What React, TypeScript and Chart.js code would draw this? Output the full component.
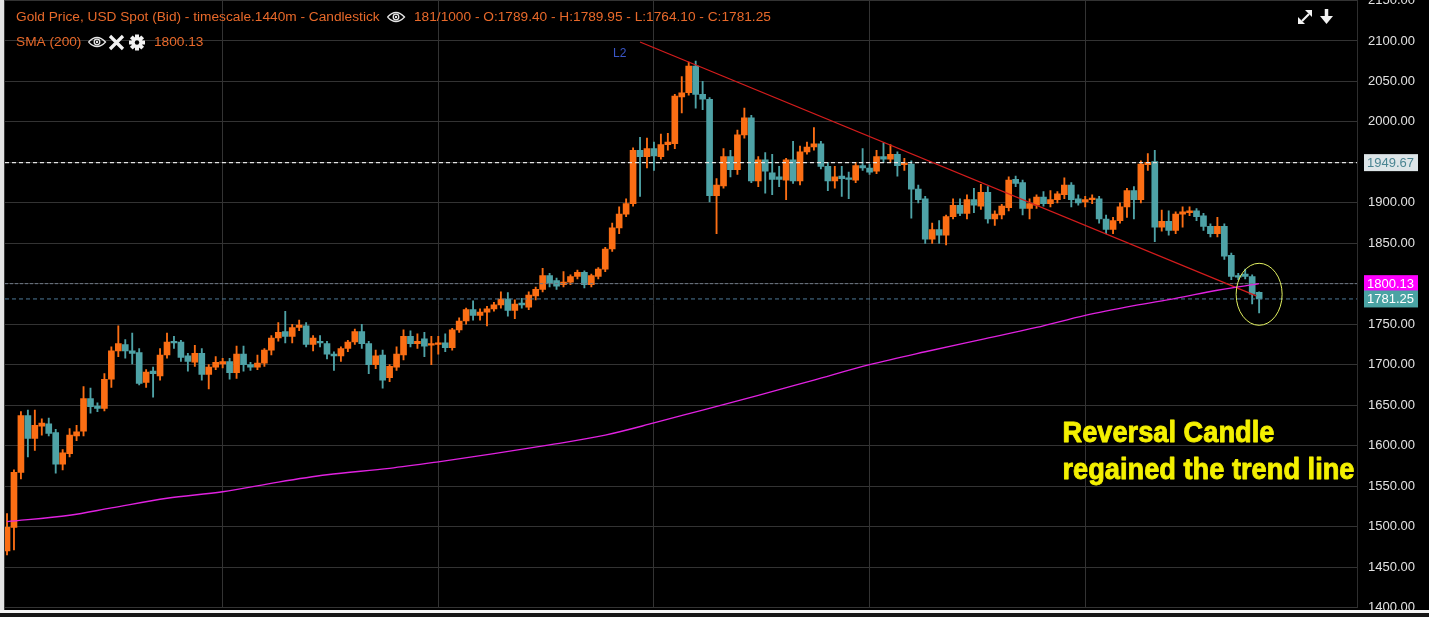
import { useEffect, useRef } from "react";
import { Chart, registerables } from "chart.js";
Chart.register(...registerables);

// ---- data (daily candles, 181 bars) ----
const opens = [
  1470, 1499, 1567, 1637, 1609, 1624, 1627, 1616, 1577, 1590,
  1612, 1618, 1658, 1649, 1646, 1682, 1717, 1725, 1717, 1715,
  1678, 1692, 1686, 1712, 1729, 1728, 1711, 1703, 1714, 1688,
  1697, 1701, 1704, 1690, 1713, 1700, 1697, 1702, 1718, 1733,
  1741, 1735, 1746, 1748, 1725, 1729, 1726, 1713, 1711, 1720,
  1728, 1741, 1726, 1700, 1712, 1684, 1697, 1712, 1735, 1726,
  1732, 1724, 1725, 1727, 1721, 1743, 1754, 1768, 1761, 1765,
  1769, 1774, 1781, 1767, 1776, 1771, 1785, 1793, 1810, 1804,
  1799, 1802, 1809, 1814, 1799, 1809, 1818, 1843, 1869, 1886,
  1899, 1965, 1957, 1967, 1957, 1972, 1973, 2031, 2036, 2069,
  2034, 2028, 1909, 1921, 1957, 1941, 1984, 2005, 1927, 1953,
  1937, 1932, 1928, 1953, 1927, 1963, 1969, 1973, 1945, 1927,
  1933, 1931, 1928, 1946, 1943, 1939, 1957, 1954, 1960, 1947,
  1948, 1917, 1905, 1855, 1867, 1860, 1883, 1897, 1887, 1904,
  1896, 1913, 1880, 1885, 1894, 1929, 1925, 1893, 1897, 1907,
  1899, 1904, 1910, 1922, 1905, 1901, 1904, 1905, 1880, 1867,
  1878, 1895, 1915, 1904, 1947, 1951, 1870, 1877, 1866, 1886,
  1888, 1890, 1884, 1871, 1862, 1871, 1835, 1810, 1812, 1809,
  1789.4,
];
const highs = [
  1516, 1570, 1642, 1644, 1644, 1633, 1634, 1620, 1595, 1621,
  1625, 1673, 1671, 1653, 1689, 1722, 1748, 1731, 1739, 1720,
  1694, 1697, 1720, 1739, 1735, 1730, 1714, 1724, 1720, 1700,
  1710, 1708, 1708, 1723, 1723, 1703, 1712, 1720, 1736, 1752,
  1766, 1750, 1755, 1752, 1736, 1736, 1729, 1716, 1722, 1730,
  1744, 1750, 1729, 1718, 1718, 1700, 1722, 1743, 1742, 1738,
  1740, 1735, 1735, 1738, 1745, 1758, 1770, 1779, 1769, 1772,
  1777, 1790, 1789, 1780, 1782, 1790, 1796, 1819, 1813, 1807,
  1815, 1811, 1817, 1816, 1812, 1820, 1845, 1875, 1895, 1905,
  1968, 1981, 1980, 1975, 1985, 1986, 2034, 2056, 2074, 2075,
  2050, 2030, 1930, 1967, 1965, 1990, 2017, 2008, 1957, 1962,
  1960, 1945, 1955, 1976, 1970, 1975, 1993, 1976, 1950, 1945,
  1945, 1938, 1950, 1967, 1948, 1965, 1974, 1972, 1963, 1955,
  1952, 1922, 1908, 1875, 1878, 1885, 1905, 1905, 1910, 1918,
  1923, 1920, 1890, 1898, 1932, 1933, 1928, 1905, 1910, 1914,
  1915, 1914, 1931, 1925, 1910, 1908, 1910, 1908, 1885, 1882,
  1900, 1918, 1920, 1952, 1961, 1965, 1891, 1890, 1889, 1895,
  1895, 1893, 1887, 1874, 1882, 1874, 1838, 1813, 1818, 1811,
  1789.95,
];
const lows = [
  1465, 1471, 1559, 1586, 1594, 1613, 1612, 1566, 1570, 1586,
  1606, 1612, 1640, 1642, 1643, 1672, 1710, 1708, 1701, 1675,
  1672, 1660, 1681, 1708, 1720, 1704, 1692, 1698, 1681, 1670,
  1694, 1696, 1682, 1683, 1692, 1693, 1694, 1698, 1712, 1729,
  1727, 1727, 1742, 1722, 1717, 1722, 1707, 1693, 1704, 1716,
  1725, 1720, 1689, 1695, 1671, 1679, 1693, 1706, 1722, 1720,
  1710, 1700, 1713, 1716, 1718, 1740, 1750, 1755, 1755, 1748,
  1766, 1770, 1760, 1757, 1770, 1768, 1780, 1790, 1796, 1793,
  1796, 1799, 1806, 1795, 1796, 1806, 1815, 1840, 1862, 1883,
  1896, 1908, 1943, 1940, 1954, 1965, 1967, 2011, 2033, 2017,
  2015, 1901, 1862, 1918, 1932, 1935, 1980, 1925, 1920, 1912,
  1910, 1920, 1904, 1924, 1922, 1960, 1965, 1942, 1915, 1918,
  1908, 1905, 1925, 1940, 1935, 1936, 1950, 1950, 1933, 1940,
  1881, 1900, 1850, 1850, 1850, 1848, 1880, 1884, 1880, 1888,
  1892, 1875, 1872, 1880, 1890, 1920, 1885, 1880, 1893, 1896,
  1895, 1900, 1905, 1895, 1897, 1895, 1899, 1875, 1862, 1862,
  1875, 1882, 1880, 1900, 1940, 1852, 1865, 1860, 1862, 1870,
  1884, 1878, 1866, 1858, 1858, 1830, 1805, 1805, 1806, 1775,
  1764.1,
];
const closes = [
  1499, 1567, 1637, 1609, 1625, 1628, 1615, 1577, 1591, 1613,
  1617, 1658, 1648, 1646, 1682, 1717, 1726, 1717, 1714, 1677,
  1691, 1689, 1712, 1728, 1727, 1709, 1704, 1714, 1688, 1697,
  1703, 1704, 1690, 1713, 1700, 1697, 1702, 1718, 1733, 1740,
  1735, 1746, 1749, 1725, 1733, 1727, 1713, 1711, 1720, 1728,
  1741, 1726, 1700, 1711, 1681, 1698, 1713, 1735, 1726, 1729,
  1723, 1726, 1727, 1721, 1743, 1754, 1768, 1761, 1765, 1769,
  1774, 1781, 1767, 1775, 1774, 1786, 1793, 1810, 1801, 1797,
  1802, 1809, 1814, 1799, 1810, 1818, 1843, 1869, 1886, 1899,
  1965, 1957, 1967, 1958, 1972, 1975, 2032, 2036, 2069, 2034,
  2028, 1909, 1922, 1957, 1941, 1984, 2005, 1927, 1953, 1939,
  1929, 1929, 1953, 1927, 1963, 1969, 1973, 1945, 1927, 1932,
  1930, 1929, 1946, 1943, 1938, 1957, 1954, 1960, 1946, 1949,
  1917, 1904, 1855, 1867, 1860, 1883, 1897, 1887, 1904, 1897,
  1913, 1880, 1886, 1896, 1928, 1924, 1893, 1899, 1907, 1899,
  1904, 1911, 1922, 1904, 1900, 1904, 1905, 1880, 1867, 1878,
  1895, 1915, 1904, 1948, 1950, 1870, 1877, 1866, 1886, 1889,
  1890, 1883, 1871, 1862, 1871, 1834, 1809, 1808, 1809, 1787,
  1781.25,
];

// SMA(200) read at selected bar indices
const smaIndex = [0, 9, 15, 23, 31, 39, 46, 55, 62, 70, 78, 86, 93, 100, 108, 116, 124, 132, 140, 148, 155, 162, 168, 174, 180];
const smaValues = [1506, 1514, 1523, 1535, 1543, 1555, 1564, 1572, 1580, 1590, 1601, 1613, 1628, 1644, 1662, 1681, 1700, 1716, 1731, 1746, 1761, 1773, 1782, 1792, 1800.13];

// trend line L2 (bar index, price)
const trendIndex = [91.0, 179.6];
const trendPrice = [2098.8, 1785.1];

// reference levels
const levelResistance = 1949.67;
const levelSma = 1800.13;
const levelLast = 1781.25;

const gridBars = [31, 62, 93, 124, 155];
const yMin = 1400;
const yMax = 2150;
const yStep = 50;

const headerLine1a = "Gold Price, USD Spot (Bid) - timescale.1440m - Candlestick";
const headerLine1b = "181/1000 - O:1789.40 - H:1789.95 - L:1764.10 - C:1781.25";
const headerLine2a = "SMA (200)";
const headerLine2b = "1800.13";
const noteLine1 = "Reversal Candle";
const noteLine2 = "regained the trend line";

const ORANGE = "#fb6e14";
const TEAL = "#4ea2a6";
const XMIN = -0.29;
const XMAX = 194.07;
const HEADER_FONT = "13.7px Arial, 'Liberation Sans', sans-serif";

function drawEye(ctx: CanvasRenderingContext2D, cx: number, cy: number) {
  ctx.save();
  ctx.strokeStyle = "#e6e6e6";
  ctx.fillStyle = "#e6e6e6";
  ctx.lineWidth = 1.3;
  ctx.beginPath();
  ctx.moveTo(cx - 8.5, cy);
  ctx.quadraticCurveTo(cx, cy - 9, cx + 8.5, cy);
  ctx.quadraticCurveTo(cx, cy + 9, cx - 8.5, cy);
  ctx.stroke();
  ctx.beginPath();
  ctx.arc(cx, cy, 2.8, 0, Math.PI * 2);
  ctx.stroke();
  ctx.beginPath();
  ctx.arc(cx, cy, 1.2, 0, Math.PI * 2);
  ctx.fill();
  ctx.restore();
}

const decorPlugin = {
  id: "decor",
  beforeDraw(chart: any) {
    const ctx = chart.ctx as CanvasRenderingContext2D;
    ctx.save();
    ctx.fillStyle = "#000000";
    ctx.fillRect(0, 0, chart.width, chart.height);
    ctx.restore();
  },
  afterDraw(chart: any) {
    const ctx = chart.ctx as CanvasRenderingContext2D;
    const x = chart.scales.x;
    const y = chart.scales.y;
    const area = chart.chartArea;
    ctx.save();

    // left strip
    ctx.fillStyle = "#e4e4e4";
    ctx.fillRect(0, 0, 4, chart.height);
    ctx.fillStyle = "#3a3a3a";
    ctx.fillRect(4, 0, 1, chart.height);

    // header
    ctx.font = HEADER_FONT;
    ctx.textBaseline = "middle";
    ctx.textAlign = "left";
    ctx.fillStyle = "#e8692a";
    ctx.fillText(headerLine1a, 16, 17);
    drawEye(ctx, 396, 17);
    ctx.fillStyle = "#e8692a";
    ctx.fillText(headerLine1b, 414, 17);
    ctx.fillText(headerLine2a, 16, 42);
    drawEye(ctx, 97, 42);
    // X icon
    ctx.strokeStyle = "#f2f2f2";
    ctx.lineWidth = 3.2;
    ctx.lineCap = "butt";
    ctx.beginPath();
    ctx.moveTo(110, 36); ctx.lineTo(123, 49);
    ctx.moveTo(123, 36); ctx.lineTo(110, 49);
    ctx.stroke();
    // gear
    ctx.fillStyle = "#f2f2f2";
    for (let k = 0; k < 8; k++) {
      const a = (k * Math.PI) / 4;
      ctx.save();
      ctx.translate(137, 42.5);
      ctx.rotate(a);
      ctx.fillRect(-2, -8, 4, 4);
      ctx.restore();
    }
    ctx.beginPath();
    ctx.arc(137, 42.5, 5.5, 0, Math.PI * 2);
    ctx.fill();
    ctx.fillStyle = "#000";
    ctx.beginPath();
    ctx.arc(137, 42.5, 2.2, 0, Math.PI * 2);
    ctx.fill();
    ctx.fillStyle = "#e8692a";
    ctx.font = HEADER_FONT;
    ctx.fillText(headerLine2b, 154, 42);

    // top-right icons
    ctx.fillStyle = "#f2f2f2";
    ctx.strokeStyle = "#f2f2f2";
    ctx.lineWidth = 2.2;
    ctx.beginPath();
    ctx.moveTo(1302, 21); ctx.lineTo(1309, 14);
    ctx.stroke();
    ctx.beginPath();
    ctx.moveTo(1312, 10); ctx.lineTo(1312, 17); ctx.lineTo(1305, 10); ctx.closePath(); ctx.fill();
    ctx.beginPath();
    ctx.moveTo(1298, 24); ctx.lineTo(1298, 17); ctx.lineTo(1305, 24); ctx.closePath(); ctx.fill();
    ctx.lineWidth = 3.5;
    ctx.beginPath();
    ctx.moveTo(1326.5, 9); ctx.lineTo(1326.5, 18);
    ctx.stroke();
    ctx.beginPath();
    ctx.moveTo(1320, 16); ctx.lineTo(1333, 16); ctx.lineTo(1326.5, 24); ctx.closePath(); ctx.fill();

    // L2 label
    ctx.font = "12px Arial, 'Liberation Sans', sans-serif";
    ctx.fillStyle = "#3a56c8";
    ctx.fillText("L2", 613, 54);

    // ellipse around last candles
    const ex = x.getPixelForValue(180);
    const ey = y.getPixelForValue(1787);
    ctx.strokeStyle = "#e2f060";
    ctx.lineWidth = 1;
    ctx.beginPath();
    ctx.ellipse(ex, ey, 23, 31, 0, 0, Math.PI * 2);
    ctx.stroke();

    // annotation
    ctx.fillStyle = "#f4f000";
    ctx.strokeStyle = "#f4f000";
    ctx.lineWidth = 0.9;
    ctx.lineJoin = "round";
    ctx.textBaseline = "alphabetic";
    ctx.font = "bold 30px Arial, 'Liberation Sans', sans-serif";
    const w2 = ctx.measureText(noteLine2).width;
    const sx = 292 / w2;
    ctx.save();
    ctx.translate(1062.5, 441.5);
    ctx.scale(sx, 1);
    ctx.fillText(noteLine1, 0, 0);
    ctx.strokeText(noteLine1, 0, 0);
    ctx.restore();
    ctx.save();
    ctx.translate(1062.5, 478.5);
    ctx.scale(sx, 1);
    ctx.fillText(noteLine2, 0, 0);
    ctx.strokeText(noteLine2, 0, 0);
    ctx.restore();

    // value boxes on axis
    const box = (v: number, bg: string, fg: string, txt: string) => {
      const py = y.getPixelForValue(v);
      ctx.fillStyle = bg;
      ctx.fillRect(area.right + 7, py - 8.5, 54, 17);
      ctx.fillStyle = fg;
      ctx.font = "13px Arial, 'Liberation Sans', sans-serif";
      ctx.textBaseline = "middle";
      ctx.textAlign = "left";
      ctx.fillText(txt, area.right + 10, py + 0.5);
    };
    box(levelResistance, "#dde5e8", "#4a8592", levelResistance.toFixed(2));
    box(levelSma, "#ff00ff", "#ffffff", levelSma.toFixed(2));
    box(levelLast, "#4aa3a3", "#ffffff", levelLast.toFixed(2));

    // bottom white rule
    ctx.fillStyle = "#f4f4f4";
    ctx.fillRect(0, 610, chart.width, 3);
    ctx.fillStyle = "#161616";
    ctx.fillRect(0, 613, chart.width, chart.height - 613);
    ctx.restore();
  },
};

export default function App() {
  const ref = useRef<HTMLCanvasElement | null>(null);
  useEffect(() => {
    document.body.style.margin = "0";
    document.body.style.background = "#000";
    const canvas = ref.current!;
    const idx = opens.map((_, i) => i);
    const colors = idx.map((i) => (closes[i] >= opens[i] ? ORANGE : TEAL));
    const levelLine = (v: number) => [
      { x: XMIN, y: v },
      { x: XMAX, y: v },
    ];
    const chart = new Chart(canvas, {
      type: "bar",
      data: {
        datasets: [
          {
            type: "line",
            label: "SMA (200)",
            data: smaIndex.map((xv, i) => ({ x: xv, y: smaValues[i] })),
            borderColor: "#e021e0",
            borderWidth: 1.3,
            pointRadius: 0,
            cubicInterpolationMode: "monotone",
            order: 0,
          } as any,
          {
            type: "line",
            label: "L2",
            data: trendIndex.map((xv, i) => ({ x: xv, y: trendPrice[i] })),
            borderColor: "#d41c1c",
            borderWidth: 1.2,
            pointRadius: 0,
            order: 1,
          } as any,
          {
            type: "line",
            label: "res",
            data: levelLine(levelResistance),
            borderColor: "#e4e4e4",
            borderWidth: 1.3,
            borderDash: [4, 3],
            pointRadius: 0,
            order: 2,
          } as any,
          {
            type: "line",
            label: "sma-level",
            data: levelLine(levelSma),
            borderColor: "#6e7886",
            borderWidth: 1,
            borderDash: [3, 2],
            pointRadius: 0,
            order: 2,
          } as any,
          {
            type: "line",
            label: "last",
            data: levelLine(levelLast),
            borderColor: "#4e7a98",
            borderWidth: 1,
            borderDash: [4, 3],
            pointRadius: 0,
            order: 2,
          } as any,
          {
            type: "bar",
            label: "body",
            data: idx.map((i) => ({ x: i, y: [opens[i], closes[i]] })),
            backgroundColor: colors,
            borderWidth: 0,
            barThickness: 6,
            grouped: false,
            minBarLength: 1.5,
            order: 3,
          } as any,
          {
            type: "bar",
            label: "wick",
            data: idx.map((i) => ({ x: i, y: [lows[i], highs[i]] })),
            backgroundColor: colors,
            borderWidth: 0,
            barThickness: 1.2,
            grouped: false,
            order: 4,
          } as any,
        ],
      },
      options: {
        responsive: false,
        animation: false,
        devicePixelRatio: 1,
        layout: { padding: { left: 5, right: 0, top: 0.5, bottom: 9.5 } },
        plugins: { legend: { display: false }, tooltip: { enabled: false } },
        scales: {
          x: {
            type: "linear",
            min: XMIN,
            max: XMAX,
            offset: false,
            grid: { color: "#333333", drawTicks: false, offset: false, lineWidth: 1 },
            border: { display: false },
            ticks: { display: false },
            afterBuildTicks: (s: any) => {
              s.ticks = gridBars.map((v) => ({ value: v }));
            },
            afterFit: (s: any) => {
              s.height = 0;
              s.paddingLeft = 0;
              s.paddingRight = 0;
              s.paddingTop = 0;
              s.paddingBottom = 0;
            },
          },
          y: {
            type: "linear",
            position: "right",
            min: yMin,
            max: yMax,
            grid: { color: "#333333", drawTicks: true, tickLength: 11, tickColor: "rgba(0,0,0,0)", lineWidth: 1 },
            border: { display: true, color: "#2e2e2e" },
            ticks: {
              stepSize: yStep,
              padding: 0,
              color: "#e2e2e2",
              font: { family: "Arial, 'Liberation Sans', sans-serif", size: 13 },
              callback: (v: any) => Number(v).toFixed(2),
            },
            afterFit: (s: any) => {
              s.width = 72;
              s.paddingTop = 0;
              s.paddingBottom = 0;
              s.paddingLeft = 0;
              s.paddingRight = 0;
            },
          },
        },
      } as any,
      plugins: [decorPlugin],
    });
    return () => chart.destroy();
  }, []);
  return <canvas ref={ref} width={1429} height={617} style={{ display: "block" }} />;
}
